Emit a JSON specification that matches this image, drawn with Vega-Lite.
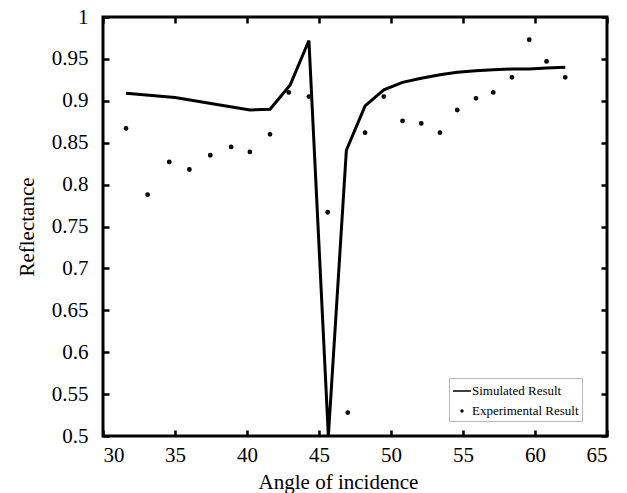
{
  "$schema": "https://vega.github.io/schema/vega-lite/v6.json",
  "width": 504,
  "height": 419,
  "autosize": {"type": "none"},
  "padding": {"left": 103, "top": 17, "right": 20, "bottom": 57},
  "background": "white",
  "config": {
    "view": {"stroke": "black", "strokeWidth": 3},
    "font": "Liberation Serif",
    "axis": {
      "domain": false,
      "grid": false,
      "tickColor": "black",
      "tickWidth": 2.5,
      "tickSize": 6,
      "offset": -6,
      "labelFont": "Liberation Serif",
      "labelFontSize": 21,
      "labelColor": "black",
      "titleFont": "Liberation Serif",
      "titleFontSize": 21,
      "titleFontWeight": "normal",
      "titleColor": "black"
    },
    "legend": {"strokeColor": "#b8b8b8", "fillColor": "white"}
  },
  "datasets": {
    "sim": [
      {"angle": 31.6, "R": 0.909, "series": "Simulated Result"},
      {"angle": 35.0, "R": 0.904, "series": "Simulated Result"},
      {"angle": 40.2, "R": 0.889, "series": "Simulated Result"},
      {"angle": 41.6, "R": 0.890, "series": "Simulated Result"},
      {"angle": 43.0, "R": 0.919, "series": "Simulated Result"},
      {"angle": 44.3, "R": 0.972, "series": "Simulated Result"},
      {"angle": 45.65, "R": 0.500, "series": "Simulated Result"},
      {"angle": 46.9, "R": 0.841, "series": "Simulated Result"},
      {"angle": 48.2, "R": 0.894, "series": "Simulated Result"},
      {"angle": 49.5, "R": 0.913, "series": "Simulated Result"},
      {"angle": 50.8, "R": 0.922, "series": "Simulated Result"},
      {"angle": 52.1, "R": 0.927, "series": "Simulated Result"},
      {"angle": 53.4, "R": 0.931, "series": "Simulated Result"},
      {"angle": 54.6, "R": 0.934, "series": "Simulated Result"},
      {"angle": 55.9, "R": 0.936, "series": "Simulated Result"},
      {"angle": 57.1, "R": 0.937, "series": "Simulated Result"},
      {"angle": 58.4, "R": 0.938, "series": "Simulated Result"},
      {"angle": 59.6, "R": 0.938, "series": "Simulated Result"},
      {"angle": 60.8, "R": 0.939, "series": "Simulated Result"},
      {"angle": 62.1, "R": 0.940, "series": "Simulated Result"}
    ],
    "exp": [
      {"angle": 31.6, "R": 0.867, "series": "Experimental Result"},
      {"angle": 33.1, "R": 0.788, "series": "Experimental Result"},
      {"angle": 34.6, "R": 0.827, "series": "Experimental Result"},
      {"angle": 36.0, "R": 0.818, "series": "Experimental Result"},
      {"angle": 37.45, "R": 0.835, "series": "Experimental Result"},
      {"angle": 38.9, "R": 0.845, "series": "Experimental Result"},
      {"angle": 40.2, "R": 0.839, "series": "Experimental Result"},
      {"angle": 41.6, "R": 0.860, "series": "Experimental Result"},
      {"angle": 42.9, "R": 0.910, "series": "Experimental Result"},
      {"angle": 44.3, "R": 0.905, "series": "Experimental Result"},
      {"angle": 45.6, "R": 0.767, "series": "Experimental Result"},
      {"angle": 47.0, "R": 0.528, "series": "Experimental Result"},
      {"angle": 48.2, "R": 0.862, "series": "Experimental Result"},
      {"angle": 49.5, "R": 0.905, "series": "Experimental Result"},
      {"angle": 50.8, "R": 0.876, "series": "Experimental Result"},
      {"angle": 52.1, "R": 0.873, "series": "Experimental Result"},
      {"angle": 53.4, "R": 0.862, "series": "Experimental Result"},
      {"angle": 54.6, "R": 0.889, "series": "Experimental Result"},
      {"angle": 55.9, "R": 0.903, "series": "Experimental Result"},
      {"angle": 57.1, "R": 0.910, "series": "Experimental Result"},
      {"angle": 58.4, "R": 0.928, "series": "Experimental Result"},
      {"angle": 59.6, "R": 0.973, "series": "Experimental Result"},
      {"angle": 60.8, "R": 0.947, "series": "Experimental Result"},
      {"angle": 62.1, "R": 0.928, "series": "Experimental Result"}
    ]
  },
  "layer": [
    {
      "data": {"name": "sim"},
      "mark": {"type": "line", "color": "black", "strokeWidth": 3},
      "encoding": {
        "x": {
          "field": "angle", "type": "quantitative",
          "scale": {"domain": [30, 65], "nice": false, "zero": false},
          "axis": {"orient": "bottom", "title": "Angle of incidence", "values": [30, 35, 40, 45, 50, 55, 60, 65], "labelPadding": 8, "titlePadding": 6, "titleX": 235, "titleAlign": "center"}
        },
        "y": {
          "field": "R", "type": "quantitative",
          "scale": {"domain": [0.5, 1], "nice": false, "zero": false},
          "axis": {"orient": "left", "title": "Reflectance", "values": [0.5, 0.55, 0.6, 0.65, 0.7, 0.75, 0.8, 0.85, 0.9, 0.95, 1], "format": ".2~f", "labelPadding": 15, "titlePadding": 14}
        }
      }
    },
    {
      "data": {"name": "exp"},
      "mark": {"type": "point", "filled": true, "color": "black", "stroke": "black", "strokeWidth": 3, "size": 324, "opacity": 1},
      "encoding": {
        "x": {
          "field": "angle", "type": "quantitative",
          "axis": {"orient": "top", "title": null, "labels": false, "values": [30, 35, 40, 45, 50, 55, 60, 65]}
        },
        "y": {
          "field": "R", "type": "quantitative",
          "axis": {"orient": "right", "title": null, "labels": false, "values": [0.5, 0.55, 0.6, 0.65, 0.7, 0.75, 0.8, 0.85, 0.9, 0.95, 1]}
        },
        "shape": {
          "field": "series", "type": "nominal",
          "scale": {
            "domain": ["Simulated Result", "Experimental Result"],
            "range": ["M-1,0H1", "M-0.1,0A0.1,0.1 0 1,1 0.1,0A0.1,0.1 0 1,1 -0.1,0Z"]
          },
          "legend": {
            "title": null,
            "orient": "none",
            "legendX": 346,
            "legendY": 361,
            "padding": 3,
            "strokeColor": "#b8b8b8",
            "fillColor": "white",
            "symbolSize": 324,
            "labelFont": "Liberation Serif",
            "labelFontSize": 13,
            "labelColor": "black",
            "labelOffset": 0,
            "rowPadding": 3,
            "encode": {
              "symbols": {"update": {"stroke": {"value": "black"}, "strokeWidth": {"value": 3}, "fill": {"value": "black"}, "opacity": {"value": 1}}},
              "legend": {"update": {"stroke": {"value": "#b8b8b8"}, "strokeWidth": {"value": 1}}}
            }
          }
        }
      }
    }
  ],
  "resolve": {"axis": {"x": "independent", "y": "independent"}}
}
